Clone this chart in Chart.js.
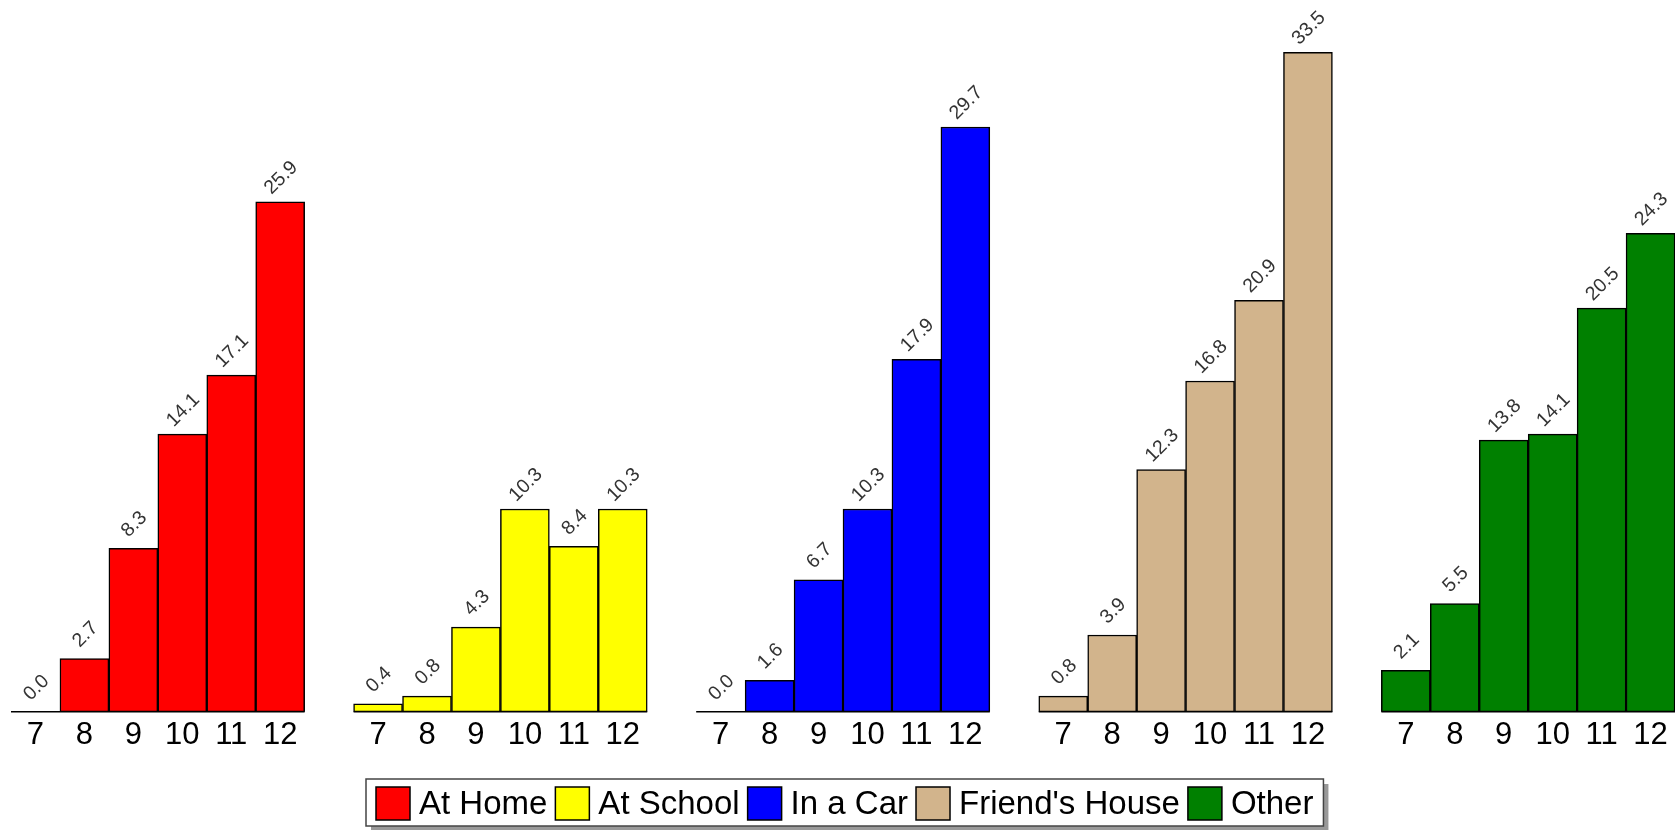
<!DOCTYPE html>
<html><head><meta charset="utf-8">
<script src="https://cdn.jsdelivr.net/npm/chart.js@4"></script>
<style>html,body{margin:0;padding:0;background:#fff;overflow:hidden}#wrap{width:1676px;height:830px;position:relative}</style>
</head><body><div id="wrap"><canvas id="c" width="1676" height="830"></canvas></div>
<script>
// ---- data ----
const grades = ['7','8','9','10','11','12'];
const seriesNames = ['At Home','At School','In a Car',"Friend's House",'Other'];
const atHome = [0.0, 2.7, 8.3, 14.1, 17.1, 25.9];
const atSchool = [0.4, 0.8, 4.3, 10.3, 8.4, 10.3];
const inACar = [0.0, 1.6, 6.7, 10.3, 17.9, 29.7];
const friendsHouse = [0.8, 3.9, 12.3, 16.8, 20.9, 33.5];
const other = [2.1, 5.5, 13.8, 14.1, 20.5, 24.3];
const seriesValues = [atHome, atSchool, inACar, friendsHouse, other];
const seriesColors = ['#FF0000', '#FFFF00', '#0000FF', '#D2B48C', '#008000'];

// ---- build category axis (groups separated by an empty slot) ----
const slotLabels = [];
seriesValues.forEach((vals, s) => {
  grades.forEach(g => slotLabels.push(g));
  if (s < seriesValues.length - 1) slotLabels.push('');
});
const groupStride = grades.length + 1;
const datasets = seriesValues.map((vals, s) => {
  const data = slotLabels.map(() => null);
  vals.forEach((v, i) => { data[s * groupStride + i] = v; });
  return {
    label: seriesNames[s],
    data,
    backgroundColor: seriesColors[s],
    borderColor: '#000',
    borderWidth: 1.5,
    borderSkipped: false,
    grouped: false,
    barPercentage: 1,
    categoryPercentage: 1
  };
});

const FONT = '"Liberation Sans", Arial, Helvetica, sans-serif';

const decor = {
  id: 'decor',
  afterDatasetsDraw(chart) {
    const ctx = chart.ctx;
    const xs = chart.scales.x, ys = chart.scales.y;
    const slot = xs.getPixelForValue(1) - xs.getPixelForValue(0);
    const y0 = ys.getPixelForValue(0);
    ctx.save();
    // baseline under each group
    seriesValues.forEach((vals, s) => {
      const a = s * groupStride, b = a + vals.length - 1;
      ctx.beginPath();
      ctx.strokeStyle = '#000';
      ctx.lineWidth = 1.5;
      ctx.moveTo(xs.getPixelForValue(a) - slot / 2, y0);
      ctx.lineTo(xs.getPixelForValue(b) + slot / 2, y0);
      ctx.stroke();
    });
    // value labels
    ctx.fillStyle = '#333';
    ctx.font = '19.5px ' + FONT;
    ctx.textAlign = 'center';
    ctx.textBaseline = 'middle';
    chart.data.datasets.forEach((ds, di) => {
      const meta = chart.getDatasetMeta(di);
      ds.data.forEach((v, i) => {
        if (v === null) return;
        const el = meta.data[i];
        ctx.save();
        ctx.translate(el.x + 1, el.y - 24);
        ctx.rotate(-Math.PI / 4);
        ctx.fillText(v.toFixed(1), 0, 0);
        ctx.restore();
      });
    });
    ctx.restore();
  },
  afterDraw(chart) {
    const ctx = chart.ctx;
    ctx.save();
    ctx.font = '33px ' + FONT;
    const sw = 34, sh = 33, gapText = 9, gapItem = 8, pad = 10;
    const widths = seriesNames.map(n => ctx.measureText(n).width);
    let W = 0;
    widths.forEach((w, i) => { W += sw + gapText + w + (i < widths.length - 1 ? gapItem : 0); });
    const fw = W + 2 * pad, fh = 47, ft = 779;
    const fl = Math.round(844.5 - fw / 2);
    // shadow
    ctx.fillStyle = '#999';
    ctx.fillRect(fl + 5, ft + 5, fw, fh);
    ctx.fillStyle = '#fff';
    ctx.fillRect(fl, ft, fw, fh);
    ctx.strokeStyle = '#444';
    ctx.lineWidth = 1.5;
    ctx.strokeRect(fl, ft, fw, fh);
    let x = fl + pad;
    const cy = ft + fh / 2 + 1;
    ctx.textBaseline = 'middle';
    ctx.textAlign = 'left';
    seriesNames.forEach((n, i) => {
      ctx.fillStyle = seriesColors[i];
      ctx.fillRect(x, cy - sh / 2, sw, sh);
      ctx.strokeStyle = '#000';
      ctx.lineWidth = 1.5;
      ctx.strokeRect(x, cy - sh / 2, sw, sh);
      x += sw + gapText;
      ctx.fillStyle = '#000';
      ctx.fillText(n, x, cy + 1);
      x += widths[i] + gapItem;
    });
    ctx.restore();
  }
};

new Chart(document.getElementById('c'), {
  type: 'bar',
  data: { labels: slotLabels, datasets },
  options: {
    responsive: false,
    animation: false,
    layout: { padding: { left: 11, right: 1, top: 3, bottom: 70 } },
    plugins: { legend: { display: false }, tooltip: { enabled: false } },
    scales: {
      x: {
        grid: { display: false, drawTicks: false },
        border: { display: false },
        ticks: { autoSkip: false, maxRotation: 0, minRotation: 0, padding: 5.5, color: '#000', font: { family: FONT, size: 31 } }
      },
      y: { display: false, min: 0, max: 36 }
    }
  },
  plugins: [decor]
});
</script>
</body></html>
